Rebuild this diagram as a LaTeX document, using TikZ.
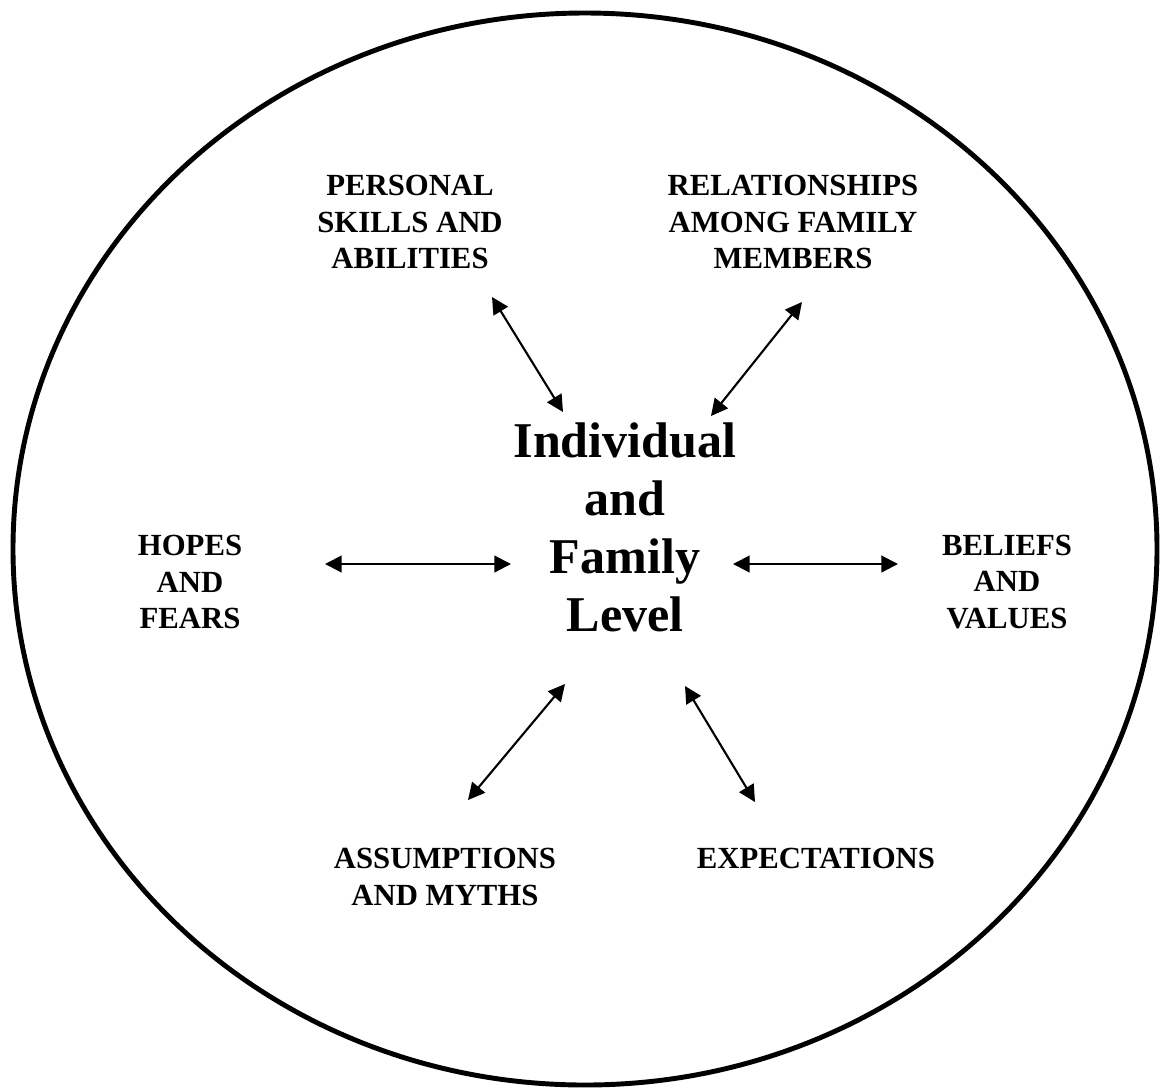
\documentclass[tikz,border=0pt]{standalone}
\usepackage{fontspec}
\setmainfont{Liberation Serif}
\usepackage{tikz}
\usetikzlibrary{arrows.meta}

\begin{document}
\begin{tikzpicture}[x=0.02cm, y=-0.02cm,
  factor/.style={align=center, inner sep=0pt, font=\fontsize{17.5}{21}\selectfont\bfseries},
  level/.style={align=center, inner sep=0pt, font=\fontsize{28.5}{33}\selectfont\bfseries},
  both/.style={{Triangle[length=9.5pt, width=9.5pt]}-{Triangle[length=9.5pt, width=9.5pt]}, line width=1.2pt}]
\useasboundingbox (0,0) rectangle (1163,1090);
\draw[line width=2.8pt] (585,549) ellipse [x radius=572, y radius=536];

\node[level] (lvl) at (625,527) {Individual\\and\\Family\\Level};

\node[factor] (skills) at (410,222) {PERSONAL\\SKILLS AND\\ABILITIES};
\node[factor] (relations) at (793,222) {RELATIONSHIPS\\AMONG FAMILY\\MEMBERS};
\node[factor] (hopes) at (190,582) {HOPES\\AND\\FEARS};
\node[factor] (beliefs) at (1007,582) {BELIEFS\\AND\\VALUES};
\node[factor] (myths) at (445,877) {ASSUMPTIONS\\AND MYTHS};
\node[factor] (expect) at (816,858) {EXPECTATIONS};

% arrow ends
\coordinate (skills-a) at (492,297);
\coordinate (skills-b) at (563,412);
\coordinate (relations-a) at (802,302);
\coordinate (relations-b) at (711,416);
\coordinate (hopes-a) at (325,564);
\coordinate (hopes-b) at (511,564);
\coordinate (beliefs-a) at (733,564);
\coordinate (beliefs-b) at (898,564);
\coordinate (myths-a) at (565,684);
\coordinate (myths-b) at (468,800);
\coordinate (expect-a) at (685,686);
\coordinate (expect-b) at (755,802);

\draw[both] (skills-a) -- (skills-b);
\draw[both] (relations-a) -- (relations-b);
\draw[both] (hopes-a) -- (hopes-b);
\draw[both] (beliefs-a) -- (beliefs-b);
\draw[both] (myths-a) -- (myths-b);
\draw[both] (expect-a) -- (expect-b);
\end{tikzpicture}
\end{document}
